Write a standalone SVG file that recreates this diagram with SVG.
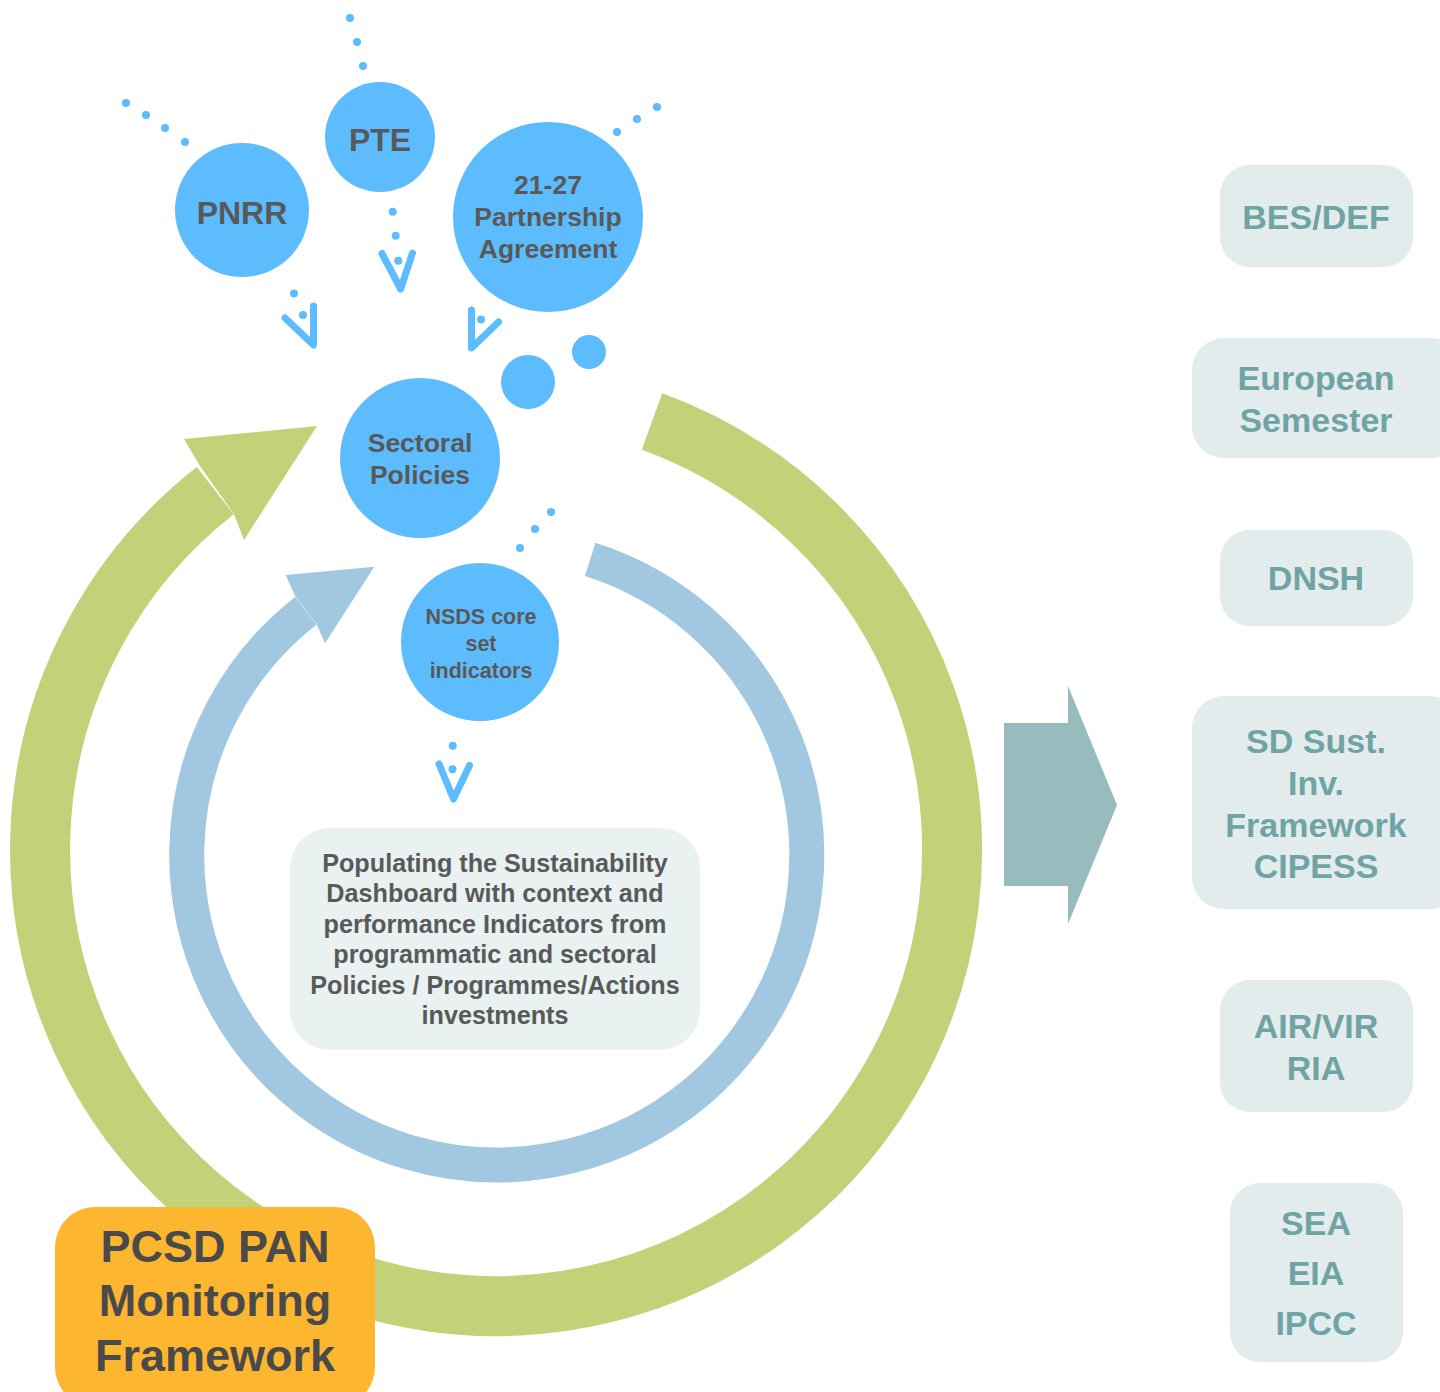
<svg xmlns="http://www.w3.org/2000/svg" width="1440" height="1392" viewBox="0 0 1440 1392">
<style>
.c{fill:#5dbcfd}
.d{fill:#5dbcfd}
.v{fill:none;stroke:#5dbcfd;stroke-width:7;stroke-linecap:round;stroke-linejoin:round}
.t{font-family:"Liberation Sans",Arial,sans-serif;font-weight:bold;fill:#595959;text-anchor:middle}
.rb{fill:#e2ecec}
.rt{font-family:"Liberation Sans",Arial,sans-serif;font-weight:bold;fill:#70a3a4;text-anchor:middle;font-size:34px}
</style>
<rect width="1440" height="1392" fill="#ffffff"/>
<g id="connectors">
<g id="green-cycle">
<path d="M 652 421.5 A 456 456 0 1 1 215.3 490.7" fill="none" stroke="#c3d178" stroke-width="60"/>
<polygon points="317,426 184,439 200,466 234,514 244,540" fill="#c3d178"/>
</g>
<g id="blue-cycle">
<path d="M 590.2 559.4 A 310 310 0 1 1 305.9 610.7" fill="none" stroke="#a2c8e1" stroke-width="35"/>
<polygon points="374.3,566.7 285.7,575 295.7,597.3 316.6,624 325,643.3" fill="#a2c8e1"/>
</g>
<g id="big-arrow">
<polygon points="1004,723 1068,723 1068,686 1117,805 1068,924 1068,886 1004,886" fill="#98bbbd"/>
</g>
<g id="dots">
<circle class="d" cx="350" cy="18" r="4"/><circle class="d" cx="357" cy="42" r="4"/><circle class="d" cx="363" cy="66" r="4"/>
<circle class="d" cx="126" cy="103" r="4"/><circle class="d" cx="146" cy="115" r="4"/><circle class="d" cx="165" cy="128" r="4"/><circle class="d" cx="185" cy="142" r="4"/>
<circle class="d" cx="657" cy="107" r="4"/><circle class="d" cx="637" cy="119" r="4"/><circle class="d" cx="617" cy="132" r="4"/>
<circle class="d" cx="551" cy="512" r="4"/><circle class="d" cx="535" cy="529" r="4"/><circle class="d" cx="520" cy="548" r="4"/>
<circle class="d" cx="528" cy="382" r="27"/><circle class="d" cx="589" cy="352" r="17"/>
</g>
<g id="arrow-pte">
<circle class="d" cx="392.7" cy="211.7" r="4"/><circle class="d" cx="395.7" cy="235.7" r="4"/><circle class="d" cx="398.3" cy="260.7" r="4"/>
<polyline class="v" points="382,253.5 400.7,289 412.5,253"/>
</g>
<g id="arrow-pnrr">
<circle class="d" cx="294" cy="293.5" r="4"/><circle class="d" cx="303" cy="315" r="4"/>
<polyline class="v" points="285,318 313.5,345 313.5,306"/>
</g>
<g id="arrow-pa">
<circle class="d" cx="481" cy="319.5" r="4"/>
<polyline class="v" points="471.5,310 471.5,348 498.5,322"/>
</g>
<g id="arrow-nsds">
<circle class="d" cx="452.7" cy="745.7" r="4"/><circle class="d" cx="452.5" cy="769.3" r="4"/>
<polyline class="v" points="439,764 453.5,799 469.5,765.5"/>
</g>
</g>
<g id="pnrr"><circle class="c" cx="242" cy="210" r="67"/><text class="t" x="242" y="224" font-size="32">PNRR</text></g>
<g id="pte"><circle class="c" cx="380" cy="137" r="55"/><text class="t" x="380" y="151" font-size="32">PTE</text></g>
<g id="pa"><circle class="c" cx="548" cy="217" r="95"/>
<text class="t" x="548" y="194" font-size="26.5">21-27</text>
<text class="t" x="548" y="226" font-size="26.5">Partnership</text>
<text class="t" x="548" y="258" font-size="26.5">Agreement</text></g>
<g id="sectoral"><circle class="c" cx="420" cy="458" r="80"/>
<text class="t" x="420" y="452" font-size="26.5">Sectoral</text>
<text class="t" x="420" y="484" font-size="26.5">Policies</text></g>
<g id="nsds"><circle class="c" cx="480" cy="642" r="79"/>
<text class="t" x="481" y="624" font-size="21.5">NSDS core</text>
<text class="t" x="481" y="651" font-size="21.5">set</text>
<text class="t" x="481" y="678" font-size="21.5">indicators</text></g>
<g id="dashboard"><rect x="290" y="828" width="410" height="222" rx="40" fill="#e9f1f1"/>
<text class="t" x="495" y="872" font-size="25.2">Populating the Sustainability</text>
<text class="t" x="495" y="902" font-size="25.2">Dashboard with context and</text>
<text class="t" x="495" y="933" font-size="25.2">performance Indicators from</text>
<text class="t" x="495" y="963" font-size="25.2">programmatic and sectoral</text>
<text class="t" x="495" y="994" font-size="25.2">Policies / Programmes/Actions</text>
<text class="t" x="495" y="1024" font-size="25.2">investments</text></g>
<g id="pcsd"><rect x="55" y="1207" width="320" height="200" rx="40" fill="#fdb62f"/>
<text class="t" x="215" y="1262" font-size="45" style="fill:#4a4a4a">PCSD PAN</text>
<text class="t" x="215" y="1316" font-size="45" style="fill:#4a4a4a">Monitoring</text>
<text class="t" x="215" y="1371" font-size="45" style="fill:#4a4a4a">Framework</text></g>
<g id="bes"><rect class="rb" x="1220" y="165" width="193" height="102" rx="30"/><text class="rt" x="1316" y="229">BES/DEF</text></g>
<g id="eusem"><rect class="rb" x="1192" y="338" width="270" height="120" rx="32"/>
<text class="rt" x="1316" y="390">European</text><text class="rt" x="1316" y="432">Semester</text></g>
<g id="dnsh"><rect class="rb" x="1220" y="530" width="193" height="96" rx="30"/><text class="rt" x="1316" y="590">DNSH</text></g>
<g id="sdsust"><rect class="rb" x="1192" y="696" width="270" height="213" rx="32"/>
<text class="rt" x="1316" y="753">SD Sust.</text><text class="rt" x="1316" y="795">Inv.</text>
<text class="rt" x="1316" y="837">Framework</text><text class="rt" x="1316" y="878">CIPESS</text></g>
<g id="airvir"><rect class="rb" x="1220" y="980" width="193" height="132" rx="30"/>
<text class="rt" x="1316" y="1038">AIR/VIR</text><text class="rt" x="1316" y="1080">RIA</text></g>
<g id="sea"><rect class="rb" x="1230" y="1183" width="173" height="179" rx="30"/>
<text class="rt" x="1316" y="1235">SEA</text><text class="rt" x="1316" y="1285">EIA</text><text class="rt" x="1316" y="1335">IPCC</text></g>
</svg>
